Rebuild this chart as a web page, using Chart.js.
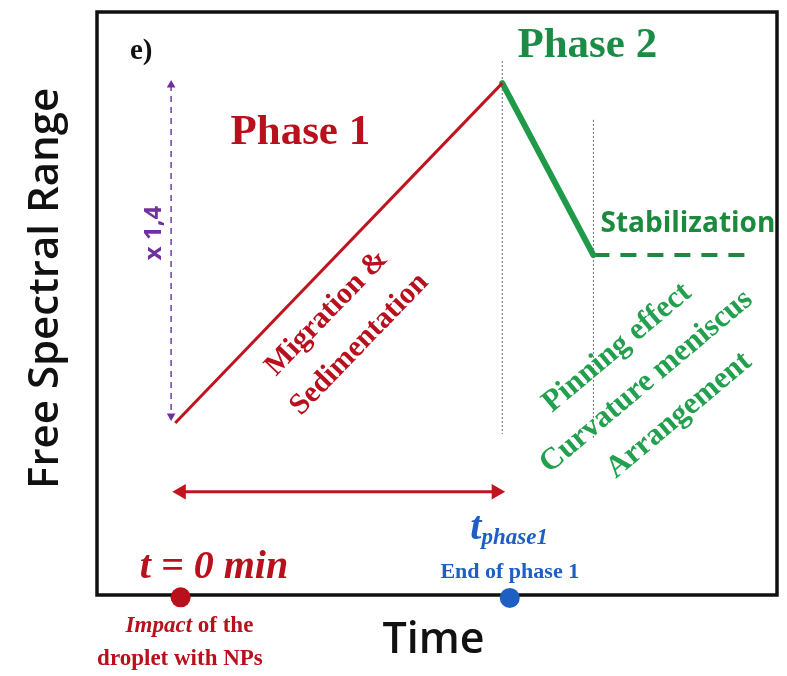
<!DOCTYPE html>
<html>
<head>
<meta charset="utf-8">
<script src="https://cdn.jsdelivr.net/npm/chart.js@4.4.0/dist/chart.umd.min.js"></script>
<style>
  html, body { margin: 0; padding: 0; background: #fff; }
  #wrap { width: 787px; height: 676px; }
</style>
</head>
<body>
<div id="wrap"><canvas id="fsr"></canvas></div>
<script>
//Schematic values, time and FSR in arbitrary units (0-100)
const phase1X = [11.5, 59.6];
const phase1Y = [29.5, 87.8];
const phase2X = [59.6, 73.0];
const phase2Y = [87.8, 58.3];
const stableX = [73.0, 96.4];
const stableY = [58.3, 58.3];
//dotted vertical markers (end of phase 1, start of stabilization)
const markerX = [59.6, 73.0];
const markerTop = [91.6, 81.5];
const markerBottom = [27.6, 26.6];
//x 1,4 arrow
const ratioX = 10.9;
const ratioY = [87.5, 30.7];
//duration of phase 1 arrow
const durationX = [12.4, 58.7];
const durationY = 17.7;
//events on the time axis
const eventX = [12.3, 60.7];
const eventY = [-0.4, -0.5];
const eventColors = ["#b8101c", "#1f5fc4"];

const RED = "#b8101c";
const GREEN = "#1e9a48";
const SERIF = '"Liberation Serif", serif';
const SANS = '"Open Sans", sans-serif';

//text annotations, placed in data units
const notes = [
  { parts: [["e)", "bold 29px " + SERIF]], x: 6.5, y: 93.2, color: "#111" },
  { parts: [["Phase 1", "bold 43px " + SERIF]], x: 29.9, y: 79.2, color: RED },
  { parts: [["Phase 2", "bold 43px " + SERIF]], x: 72.1, y: 94.2, color: "#1b8c45" },
  { parts: [["Stabilization", "bold 28px " + SANS]], x: 86.9, y: 63.6, color: "#1a8a3c" },
  { parts: [["Migration &", "bold 30px " + SERIF]], x: 33.8, y: 48.4, color: RED, rot: -46 },
  { parts: [["Sedimentation", "bold 30px " + SERIF]], x: 38.6, y: 43.0, color: RED, rot: -46 },
  { parts: [["Pinning effect", "bold 31px " + SERIF]], x: 76.5, y: 42.4, color: "#22a04e", rot: -40 },
  { parts: [["Curvature meniscus", "bold 31px " + SERIF]], x: 80.8, y: 36.6, color: "#22a04e", rot: -40 },
  { parts: [["Arrangement", "bold 31px " + SERIF]], x: 85.6, y: 30.8, color: "#22a04e", rot: -40 },
  { parts: [["x 1,4", "bold 24px " + SANS]], x: 8.4, y: 62.1, color: "#7030a0", rot: -90 },
  { parts: [["t = 0 min", "italic bold 40px " + SERIF]], x: 17.2, y: 4.7, color: RED },
  { parts: [["End of phase 1", "bold 22px " + SERIF]], x: 60.7, y: 3.9, color: "#1f5fc4" },
  { parts: [["Impact", "italic bold 23px " + SERIF], [" of the", "bold 23px " + SERIF]], x: 13.6, y: -5.3, color: RED },
  { parts: [["droplet with NPs", "bold 23px " + SERIF]], x: 12.2, y: -11.0, color: RED },
];

//draws a line of text made of runs with different fonts, centered on (x, y)
function drawRuns(ctx, note, px, py) {
  let total = 0;
  for (const [t, f] of note.parts) {
    ctx.font = f;
    total += ctx.measureText(t).width;
  }
  ctx.save();
  ctx.translate(px, py);
  ctx.rotate(((note.rot || 0) * Math.PI) / 180);
  ctx.fillStyle = note.color;
  ctx.textBaseline = "middle";
  ctx.textAlign = "left";
  let cx = -total / 2;
  for (const [t, f] of note.parts) {
    ctx.font = f;
    ctx.fillText(t, cx, 0);
    cx += ctx.measureText(t).width;
  }
  ctx.restore();
}

const decor = {
  id: "decor",
  beforeDatasetsDraw(chart) {
    const { ctx, chartArea } = chart;
    ctx.save();
    ctx.strokeStyle = "#111";
    ctx.lineWidth = 3.5;
    ctx.strokeRect(chartArea.left, chartArea.top, chartArea.width, chartArea.height);
    ctx.restore();
  },
  afterDatasetsDraw(chart) {
    const { ctx, scales } = chart;
    const xs = scales.x, ys = scales.y;
    for (const n of notes) {
      drawRuns(ctx, n, xs.getPixelForValue(n.x), ys.getPixelForValue(n.y));
    }
    //t with subscript phase1
    ctx.save();
    ctx.fillStyle = "#1f5fc4";
    ctx.textBaseline = "alphabetic";
    ctx.textAlign = "left";
    const bx = xs.getPixelForValue(54.9);
    const by = ys.getPixelForValue(9.6);
    ctx.font = "italic bold 40px " + SERIF;
    ctx.fillText("t", bx, by);
    const tw = ctx.measureText("t").width;
    ctx.font = "italic bold 23px " + SERIF;
    ctx.fillText("phase1", bx + tw, by + 5);
    ctx.restore();
    //axis titles
    ctx.save();
    ctx.fillStyle = "#111";
    ctx.textAlign = "center";
    ctx.textBaseline = "middle";
    ctx.font = "600 43px " + SANS;
    ctx.fillText("Time", xs.getPixelForValue(49.5), ys.getPixelForValue(-7.9));
    ctx.font = "600 42px " + SANS;
    ctx.translate(46, ys.getPixelForValue(52.6));
    ctx.rotate(-Math.PI / 2);
    ctx.fillText("Free Spectral Range", 0, 0);
    ctx.restore();
  },
};

const pts = (xs, ys) => xs.map((x, i) => ({ x: x, y: ys[i] }));

new Chart(document.getElementById("fsr"), {
  type: "scatter",
  plugins: [decor],
  data: {
    datasets: [
      //dotted markers
      ...markerX.map((mx, i) => ({
        data: [{ x: mx, y: markerTop[i] }, { x: mx, y: markerBottom[i] }],
        showLine: true,
        borderColor: "#666",
        borderWidth: 1,
        borderDash: [2, 2],
        pointRadius: 0,
      })),
      {
        data: pts(phase1X, phase1Y),
        showLine: true,
        borderColor: "#c0141e",
        borderWidth: 3,
        pointRadius: 0,
      },
      {
        data: pts(phase2X, phase2Y),
        showLine: true,
        borderColor: GREEN,
        borderWidth: 6,
        borderCapStyle: "round",
        pointRadius: 0,
      },
      {
        data: pts(stableX, stableY),
        showLine: true,
        borderColor: "#1a8a3c",
        borderWidth: 4,
        borderDash: [16, 11],
        pointRadius: 0,
      },
      //x 1,4 arrow
      {
        data: ratioY.map((y) => ({ x: ratioX, y: y })),
        showLine: true,
        borderColor: "#7a4aa8",
        borderWidth: 1.6,
        borderDash: [6, 5],
        pointStyle: "triangle",
        pointRadius: 5,
        pointRotation: [0, 180],
        pointBackgroundColor: "#7030a0",
        pointBorderWidth: 0,
      },
      //phase 1 duration arrow
      {
        data: durationX.map((x) => ({ x: x, y: durationY })),
        showLine: true,
        borderColor: "#c0141e",
        borderWidth: 3,
        pointStyle: "triangle",
        pointRadius: 9,
        pointRotation: [270, 90],
        pointBackgroundColor: "#c0141e",
        pointBorderWidth: 0,
      },
      //events
      {
        data: pts(eventX, eventY),
        showLine: false,
        pointRadius: 10,
        pointBackgroundColor: eventColors,
        pointBorderWidth: 0,
        clip: false,
      },
    ],
  },
  options: {
    responsive: true,
    maintainAspectRatio: false,
    animation: false,
    layout: { padding: { left: 97, right: 5, top: 12, bottom: 81 } },
    scales: {
      x: { type: "linear", min: 0, max: 100, display: false },
      y: { type: "linear", min: 0, max: 100, display: false },
    },
    plugins: {
      legend: { display: false },
      tooltip: { enabled: false },
    },
  },
});
</script>
</body>
</html>
